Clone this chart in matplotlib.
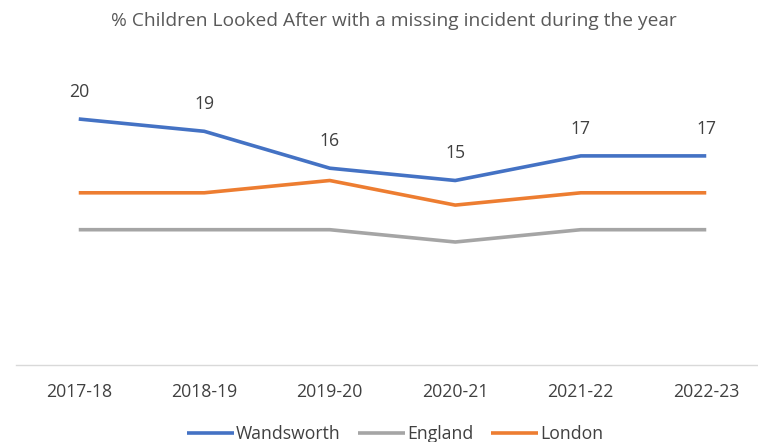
import matplotlib
matplotlib.use("Agg")
import matplotlib.pyplot as plt

years = ["2017-18", "2018-19", "2019-20", "2020-21", "2021-22", "2022-23"]
wandsworth = [20, 19, 16, 15, 17, 17]
england = [11, 11, 11, 10, 11, 11]
london = [14, 14, 15, 13, 14, 14]
title = "% Children Looked After with a missing incident during the year"

plt.rcParams['font.family'] = ['Open Sans', 'DejaVu Sans']
text_col = "#595959"
fs = 12.7

W, H = 758, 442
fig = plt.figure(figsize=(W / 100, H / 100), dpi=100)
ax = fig.add_axes([16 / W, (H - 365) / H, 753 / W, (365 - 57.5) / H])

x = list(range(len(years)))
ax.plot(x, wandsworth, color="#4472C4", lw=2.6, label="Wandsworth", solid_capstyle="butt")
ax.plot(x, england, color="#A5A5A5", lw=2.6, label="England", solid_capstyle="butt")
ax.plot(x, london, color="#ED7D31", lw=2.6, label="London", solid_capstyle="butt")

for xi, v in zip(x, wandsworth):
    ax.annotate(str(v), (xi, v), xytext=(0, 19.5), textcoords="offset points",
                ha="center", va="center", fontsize=fs, color="#404040")

ax.set_xlim(-0.5, len(years) - 0.5)
ax.set_ylim(0, 25)
ax.set_xticks(x)
ax.set_xticklabels(years, fontsize=fs, color="#404040")
ax.tick_params(axis="x", length=0, pad=13)
ax.set_yticks([])
for s in ["top", "right", "left"]:
    ax.spines[s].set_visible(False)
ax.spines["bottom"].set_color("#D9D9D9")
ax.spines["bottom"].set_linewidth(1.0)

fig.text(394 / W, 1 - 21 / H, title, ha="center", va="center", fontsize=13.8, color=text_col)

fig.legend(loc="center", bbox_to_anchor=(395 / W, 1 - 434 / H), ncol=3, frameon=False,
           fontsize=fs, handlelength=2.67, handletextpad=0.1, columnspacing=1.0,
           labelcolor="#404040")

fig.savefig("out.png", dpi=100)
